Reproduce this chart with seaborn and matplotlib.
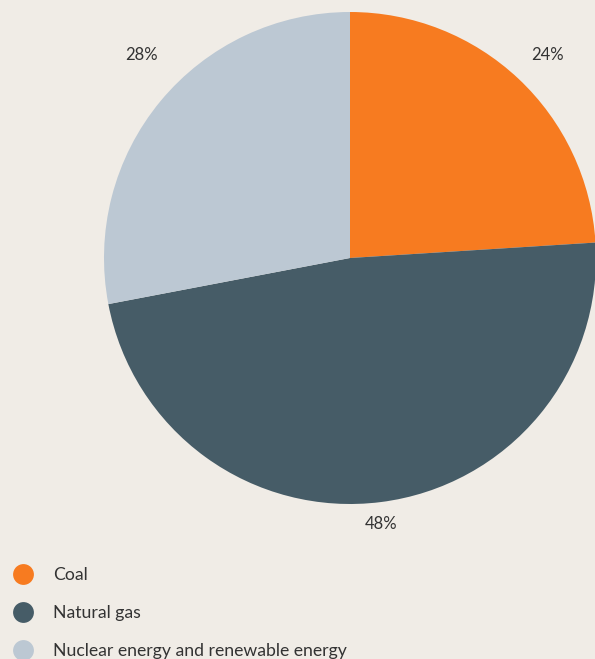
import matplotlib
matplotlib.use("Agg")
import matplotlib.pyplot as plt
import seaborn as sns
from matplotlib.lines import Line2D

categories = ["Coal", "Natural gas", "Nuclear energy and renewable energy"]
shares = [24, 48, 28]
labels = ["24%", "48%", "28%"]
colors = ["#f77b20", "#465c67", "#bcc8d3"]

BG = "#f0ece6"
TXT = "#333333"

sns.set_theme(style="white")
plt.rcParams["font.family"] = ["Lato", "DejaVu Sans"]

W, H = 595, 659
fig = plt.figure(figsize=(W / 100, H / 100), dpi=100, facecolor=BG)

# pie axes: centre (350, 258) px, radius 246 px
cx, cy, r = 350, 258, 246
ax = fig.add_axes([(cx - r) / W, (H - cy - r) / H, 2 * r / W, 2 * r / H])
ax.set_facecolor(BG)
wedges, _ = ax.pie(shares, colors=colors, startangle=90, counterclock=False,
                   radius=1.0, wedgeprops=dict(linewidth=0))
ax.set_xlim(-1, 1)
ax.set_ylim(-1, 1)
ax.set_aspect("equal")
ax.axis("off")
for w in wedges:
    w.set_clip_on(False)

# label anchor positions (px)
label_pos = [(548, 55), (381, 524), (141, 55)]
for (lx, ly), t in zip(label_pos, labels):
    fig.text(lx / W, 1 - ly / H, t, ha="center", va="center",
             fontsize=12, color=TXT)

handles = [Line2D([], [], linestyle="none", marker="o", markersize=15,
                  markerfacecolor=c, markeredgewidth=0) for c in colors]
leg = fig.legend(handles, categories, loc="upper left",
                 bbox_to_anchor=(5.5 / W, 1 - 560 / H), frameon=False,
                 fontsize=12.7, labelcolor=TXT, handlelength=1.2,
                 handletextpad=1.1, labelspacing=1.25, borderaxespad=0,
                 borderpad=0.4)

fig.savefig("out.png", dpi=100, facecolor=BG)
